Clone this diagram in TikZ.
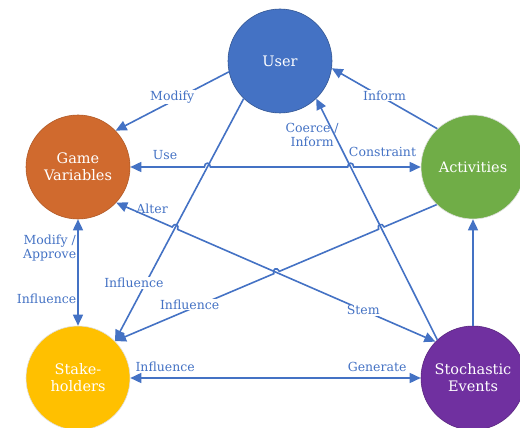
\documentclass[tikz,border=0pt]{standalone}
\usepackage{fontspec}
\setmainfont{DejaVu Serif}
\usetikzlibrary{arrows.meta,calc}

\definecolor{linkblue}{HTML}{4472C4}
\definecolor{userblue}{HTML}{4472C4}
\definecolor{gameorange}{HTML}{D06A2E}
\definecolor{actgreen}{HTML}{70AD47}
\definecolor{stakeyellow}{HTML}{FFC000}
\definecolor{eventpurple}{HTML}{7030A0}

\begin{document}
\begin{tikzpicture}[
    x=1pt, y=-1pt,
    actor/.style={circle, minimum size=104pt, inner sep=0pt, align=center,
                  text=white, line width=0.6pt,
                  font=\fontsize{14.5}{17}\selectfont},
    link/.style={linkblue, line width=1.6pt},
    oneway/.style={-{Triangle[length=11pt,width=10pt]}},
    twoway/.style={{Triangle[length=11pt,width=10pt]}-{Triangle[length=11pt,width=10pt]}},
    lbl/.style={text=linkblue, font=\fontsize{12.5}{14}\selectfont,
                align=center, inner sep=1pt},
    hopl/.style={bend left=90, looseness=2.2},
    hopr/.style={bend right=90, looseness=2.2}
  ]
  \useasboundingbox (0,0) rectangle (520,428);

  % the five circles
  \foreach \id/\x/\y/\col/\rim/\txt in {
      user/280/61/userblue/userblue!75!black/User,
      game/78/167/gameorange/gameorange!85!black/{Game\\Variables},
      act/473/167/actgreen/white!75!gray/Activities,
      stake/78/378/stakeyellow/white!75!gray/{Stake-\\holders},
      events/473/378/eventpurple/eventpurple!80!black/{Stochastic\\Events}} {
    \node[actor, fill=\col, draw=\rim] (\id) at (\x,\y) {\txt};
  }

  % end points of the crossing links
  \coordinate (gE) at (game.east);
  \coordinate (gA) at (game.-43);
  \coordinate (aW) at (act.west);
  \coordinate (aI) at (act.226);
  \coordinate (uS) at (user.226);
  \coordinate (uC) at (user.-46);
  \coordinate (sN) at (stake.45);
  \coordinate (eA) at (events.136);
  \coordinate (eC) at (events.133);

  % where the hops go
  \coordinate (h1) at (intersection of gE--aW and uS--sN);
  \coordinate (h2) at (intersection of gE--aW and eC--uC);
  \coordinate (h3) at (intersection of gA--eA and uS--sN);
  \coordinate (h4) at (intersection of aI--sN and eC--uC);
  \coordinate (h5) at (intersection of aI--sN and gA--eA);

  \draw[link, oneway] (user.192) -- node[lbl, fill=white, yshift=4pt] {Modify} (game.44);
  \draw[link, oneway] (act.133) -- node[lbl, fill=white, yshift=3pt] {Inform} (user.-8);
  \draw[link, oneway] (eC) -- node[lbl, pos=0.85, anchor=east, xshift=6pt] {Coerce /\\Inform} (uC);
  \draw[link, oneway] (uS) -- node[lbl, fill=white, pos=0.76, xshift=-12pt] {Influence} (sN);

  \draw[link, twoway] (game)
    -- node[lbl, above=6pt, pos=0.47] {Use} ($(h1)!3pt!(gE)$)
    to[hopl] ($(h1)!3pt!(aW)$)
    -- ($(h2)!3pt!(gE)$)
    to[hopl] ($(h2)!3pt!(aW)$)
    -- node[lbl, above=9pt, pos=0.43] {Constraint} (act);

  \draw[link, twoway] (gA)
    -- node[lbl, above=3pt, pos=0.64] {Alter} ($(h3)!3pt!(gA)$)
    to[hopl] ($(h3)!3pt!(eA)$)
    -- node[lbl, fill=white, pos=0.72] {Stem} (eA);

  \draw[link, oneway] (aI)
    -- ($(h4)!3pt!(aI)$)
    to[hopr] ($(h4)!3pt!(sN)$)
    -- ($(h5)!3pt!(aI)$)
    to[hopr] ($(h5)!3pt!(sN)$)
    -- node[lbl, fill=white, pos=0.53, yshift=5pt] {Influence} (sN);

  \draw[link, twoway] (game) -- node[lbl, left, pos=0.27] {Modify /\\Approve}
    node[lbl, left, pos=0.75] {Influence} (stake);
  \draw[link, twoway] (stake) -- node[lbl, above=5pt, pos=0.12] {Influence}
    node[lbl, above=5pt, pos=0.85] {Generate} (events);
  \draw[link, oneway] (events) -- (act);
\end{tikzpicture}
\end{document}
